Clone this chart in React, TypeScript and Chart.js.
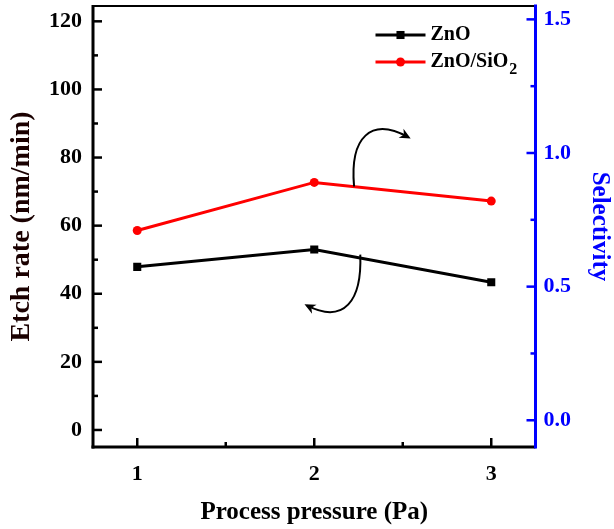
import React, { useEffect, useRef } from 'react';
import { Chart, registerables } from 'chart.js';

Chart.register(...registerables);

// ---- data ----
const pressures = [1, 2, 3];
const znoEtchRate = [47.9, 53.0, 43.4];
const znoSio2Selectivity = [0.71, 0.89, 0.82];

const xTickValues = [1, 2, 3];
const xMinorTicks = [1.5, 2.5];
const leftTickValues = [0, 20, 40, 60, 80, 100, 120];
const leftMinorTicks = [10, 30, 50, 70, 90, 110];
const rightTickValues = [0, 0.5, 1.0, 1.5];
const rightMinorTicks = [0.25, 0.75, 1.25];

const seriesLabels = ['ZnO', 'ZnO/SiO'];
const seriesLabelSubscripts = ['', '2'];

const FONT = "'Liberation Serif', 'Times New Roman', serif";
const BLUE = '#0000ff';
const RED = '#ff0000';

const decorPlugin = {
  id: 'decor',
  afterDatasetsDraw(chart: any) {
    const { ctx, chartArea: a, scales } = chart;
    const xs = scales.x;
    const ys = scales.y;
    const y1 = scales.y1;
    ctx.save();
    ctx.lineCap = 'butt';

    // inward ticks
    ctx.strokeStyle = '#000';
    ctx.lineWidth = 2.5;
    const hline = (x0: number, x1: number, yy: number) => {
      ctx.beginPath(); ctx.moveTo(x0, yy); ctx.lineTo(x1, yy); ctx.stroke();
    };
    const vline = (xx: number, y0: number, yb: number) => {
      ctx.beginPath(); ctx.moveTo(xx, y0); ctx.lineTo(xx, yb); ctx.stroke();
    };
    leftTickValues.forEach((v) => hline(a.left, a.left + 9, ys.getPixelForValue(v)));
    leftMinorTicks.forEach((v) => hline(a.left, a.left + 5, ys.getPixelForValue(v)));
    xTickValues.forEach((v) => vline(xs.getPixelForValue(v), a.bottom, a.bottom - 9));
    xMinorTicks.forEach((v) => vline(xs.getPixelForValue(v), a.bottom, a.bottom - 5));
    ctx.strokeStyle = BLUE;
    rightTickValues.forEach((v) => hline(a.right, a.right - 9, y1.getPixelForValue(v)));
    rightMinorTicks.forEach((v) => hline(a.right, a.right - 5, y1.getPixelForValue(v)));

    // frame
    ctx.strokeStyle = '#000';
    ctx.lineWidth = 2;
    hline(a.left, a.right, a.top);
    ctx.lineWidth = 3;
    vline(a.left, a.top - 1, a.bottom + 1.5);
    hline(a.left - 1.5, a.right, a.bottom);
    ctx.strokeStyle = BLUE;
    vline(a.right, a.top - 1.5, a.bottom + 1.5);

    // curved arrows (annotation, anchored in data space)
    ctx.strokeStyle = '#000';
    ctx.fillStyle = '#000';
    ctx.lineWidth = 2;
    const P = (xv: number, yv: number) => [xs.getPixelForValue(xv), ys.getPixelForValue(yv)];
    const drawArrow = (pts: number[][]) => {
      const [s, c1, c2, e] = pts;
      ctx.beginPath();
      ctx.moveTo(s[0], s[1]);
      ctx.bezierCurveTo(c1[0], c1[1], c2[0], c2[1], e[0], e[1]);
      ctx.stroke();
      const ang = Math.atan2(e[1] - c2[1], e[0] - c2[0]);
      const L = 11, W = 5;
      const tipX = e[0] + Math.cos(ang) * 3, tipY = e[1] + Math.sin(ang) * 3;
      ctx.beginPath();
      ctx.moveTo(tipX, tipY);
      ctx.lineTo(tipX - L * Math.cos(ang) + W * Math.sin(ang), tipY - L * Math.sin(ang) - W * Math.cos(ang));
      ctx.lineTo(tipX - L * 0.7 * Math.cos(ang), tipY - L * 0.7 * Math.sin(ang));
      ctx.lineTo(tipX - L * Math.cos(ang) - W * Math.sin(ang), tipY - L * Math.sin(ang) + W * Math.cos(ang));
      ctx.closePath();
      ctx.fill();
    };
    drawArrow([P(2.225, 71.5), P(2.2, 86), P(2.32, 92), P(2.53, 86)]);
    drawArrow([P(2.26, 51.5), P(2.27, 38), P(2.17, 31), P(1.96, 36.5)]);

    // legend
    const lx = a.right - 160;
    const rows = [
      { y: a.top + 29, color: '#000', style: 'rect', r: 5.7 },
      { y: a.top + 56, color: RED, style: 'circle', r: 4.5 },
    ];
    rows.forEach((row, i) => {
      ctx.strokeStyle = row.color;
      ctx.fillStyle = row.color;
      ctx.lineWidth = 3;
      hline(lx, lx + 50, row.y);
      if (row.style === 'rect') {
        const s = row.r * Math.SQRT1_2;
        ctx.fillRect(lx + 25 - s, row.y - s, 2 * s, 2 * s);
      } else {
        ctx.beginPath(); ctx.arc(lx + 25, row.y, row.r, 0, Math.PI * 2); ctx.fill();
      }
      ctx.fillStyle = '#000';
      ctx.font = `bold 20px ${FONT}`;
      ctx.textBaseline = 'middle';
      ctx.textAlign = 'left';
      const tx = lx + 55;
      ctx.fillText(seriesLabels[i], tx, row.y);
      if (seriesLabelSubscripts[i]) {
        const w = ctx.measureText(seriesLabels[i]).width;
        ctx.font = `bold 16px ${FONT}`;
        ctx.fillText(seriesLabelSubscripts[i], tx + w + 1, row.y + 8);
      }
    });
    ctx.restore();
  },
};

export default function App() {
  const ref = useRef<HTMLCanvasElement | null>(null);
  useEffect(() => {
    if (!ref.current) return;
    const chart = new Chart(ref.current, {
      type: 'line',
      data: {
        datasets: [
          {
            label: seriesLabels[0],
            data: pressures.map((p, i) => ({ x: p, y: znoEtchRate[i] })),
            borderColor: '#000',
            backgroundColor: '#000',
            borderWidth: 3,
            pointStyle: 'rect',
            pointRadius: 5.7,
            pointBorderWidth: 0,
            yAxisID: 'y',
          },
          {
            label: seriesLabels[1] + seriesLabelSubscripts[1],
            data: pressures.map((p, i) => ({ x: p, y: znoSio2Selectivity[i] })),
            borderColor: RED,
            backgroundColor: RED,
            borderWidth: 3,
            pointStyle: 'circle',
            pointRadius: 4.5,
            pointBorderWidth: 0,
            yAxisID: 'y1',
          },
        ],
      },
      options: {
        animation: false,
        responsive: false,
        maintainAspectRatio: false,
        layout: { padding: { top: 6, left: 0, right: 0, bottom: 0 } },
        plugins: { legend: { display: false }, tooltip: { enabled: false } },
        scales: {
          x: {
            type: 'linear',
            min: 0.75,
            max: 3.25,
            grid: { display: false, drawTicks: false },
            border: { display: false },
            afterBuildTicks: (s: any) => { s.ticks = xTickValues.map((v) => ({ value: v })); },
            afterFit: (s: any) => { s.height = 82; s.paddingLeft = 0; s.paddingRight = 0; },
            ticks: {
              padding: 14,
              color: '#000',
              font: { family: FONT, weight: 'bold', size: 22 },
              callback: (v: any) => String(v),
            },
            title: {
              display: true,
              text: 'Process pressure (Pa)',
              color: '#000',
              font: { family: FONT, weight: 'bold', size: 25 },
              padding: { top: 0, bottom: 1 },
            },
          },
          y: {
            type: 'linear',
            position: 'left',
            min: -5,
            max: 124.5,
            grid: { display: false, drawTicks: false },
            border: { display: false },
            afterBuildTicks: (s: any) => { s.ticks = leftTickValues.map((v) => ({ value: v })); },
            afterFit: (s: any) => { s.width = 93; s.paddingTop = 0; s.paddingBottom = 0; },
            ticks: {
              padding: 11,
              color: '#000',
              font: { family: FONT, weight: 'bold', size: 22 },
              callback: (v: any) => String(v),
            },
            title: {
              display: true,
              text: 'Etch rate (nm/min)',
              color: '#1a0000',
              font: { family: FONT, weight: 'bold', size: 28 },
              padding: { top: 5, bottom: 0 },
            },
          },
          y1: {
            type: 'linear',
            position: 'right',
            min: -0.1,
            max: 1.55,
            grid: { display: false, drawTicks: false },
            border: { display: false },
            afterBuildTicks: (s: any) => { s.ticks = rightTickValues.map((v) => ({ value: v })); },
            afterFit: (s: any) => { s.width = 78.5; s.paddingTop = 0; s.paddingBottom = 0; },
            ticks: {
              padding: 8,
              color: BLUE,
              font: { family: FONT, weight: 'bold', size: 22 },
              callback: (v: any) => Number(v).toFixed(1),
            },
            title: {
              display: true,
              text: 'Selectivity',
              color: BLUE,
              font: { family: FONT, weight: 'bold', size: 25 },
              padding: { top: 0, bottom: 0 },
            },
          },
        },
      },
      plugins: [decorPlugin],
    } as any);
    return () => chart.destroy();
  }, []);
  return (
    <div style={{ position: 'fixed', left: 0, top: 0, width: 614, height: 529, background: '#fff' }}>
      <canvas ref={ref} width={614} height={529} style={{ width: 614, height: 529, display: 'block' }} />
    </div>
  );
}
